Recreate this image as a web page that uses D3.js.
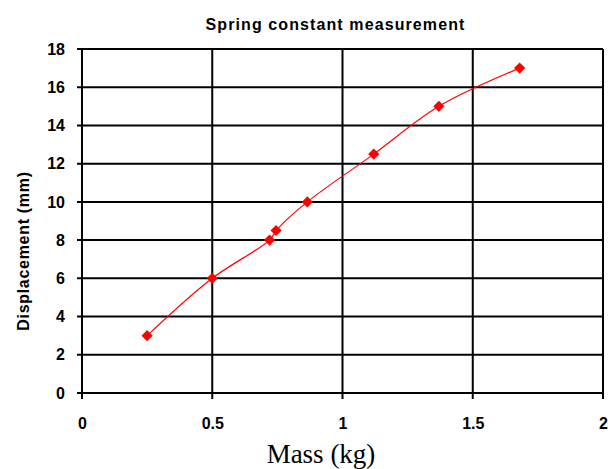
<!DOCTYPE html>
<html>
<head>
<meta charset="utf-8">
<script src="https://cdn.jsdelivr.net/npm/d3@7"></script>
<style>
  html, body { margin: 0; padding: 0; background: #fff; }
  svg { display: block; }
</style>
</head>
<body>
<svg id="chart" width="608" height="469"></svg>
<script>
const title = "Spring constant measurement";
const xLabel = "Mass (kg)";
const yLabel = "Displacement (mm)";
const massKg = [0.25, 0.5, 0.72, 0.745, 0.865, 1.12, 1.37, 1.68];
const displacementMm = [3, 6, 8, 8.5, 10, 12.5, 15, 17];
const xTicks = [0, 0.5, 1, 1.5, 2];
const xTickLabels = ["0", "0.5", "1", "1.5", "2"];
const yTicks = [0, 2, 4, 6, 8, 10, 12, 14, 16, 18];

(function () {
const svg = d3.select("#chart");
const pLeft = 82, pRight = 603, pTop = 49, pBottom = 393;

const x = d3.scaleLinear().domain([0, 2]).range([pLeft, pRight]);
const y = d3.scaleLinear().domain([0, 18]).range([pBottom, pTop]);

const font = "'Liberation Sans', Arial, sans-serif";

// grid lines
const grid = svg.append("g").attr("stroke", "#000").attr("stroke-width", 2);
grid.selectAll("line.h").data(yTicks).join("line").attr("class", "h")
  .attr("x1", pLeft - 5).attr("x2", pRight)
  .attr("y1", d => y(d)).attr("y2", d => y(d));
grid.selectAll("line.v").data(xTicks).join("line").attr("class", "v")
  .attr("x1", d => x(d)).attr("x2", d => x(d))
  .attr("y1", pTop).attr("y2", pBottom + 6);

// y axis tick labels
const yAxis = d3.axisLeft(y).tickValues(yTicks).tickSize(0).tickPadding(17);
const gy = svg.append("g").attr("transform", `translate(${pLeft},0)`).call(yAxis);
gy.select(".domain").remove();
gy.selectAll("text").attr("font-family", font).attr("font-weight", "bold")
  .attr("font-size", 16).attr("fill", "#000");

// x axis tick labels
const xAxis = d3.axisBottom(x).tickValues(xTicks).tickFormat((d, i) => xTickLabels[i]).tickSize(0).tickPadding(25);
const gx = svg.append("g").attr("transform", `translate(0,${pBottom})`).call(xAxis);
gx.select(".domain").remove();
gx.selectAll("text").attr("font-family", font).attr("font-weight", "bold")
  .attr("font-size", 16).attr("fill", "#000");

// data
const data = massKg.map((m, i) => ({ m, d: displacementMm[i] }));
const line = d3.line().x(p => x(p.m)).y(p => y(p.d)).curve(d3.curveCatmullRom.alpha(0.5));
svg.append("path").datum(data).attr("d", line)
  .attr("fill", "none").attr("stroke", "#ff0000").attr("stroke-width", 1.2);

svg.append("g").selectAll("path").data(data).join("path")
  .attr("d", d3.symbol().type(d3.symbolSquare).size(62))
  .attr("transform", p => `translate(${x(p.m)},${y(p.d)}) rotate(45)`)
  .attr("fill", "#ff0000");

// title
svg.append("text").attr("x", 335.5).attr("y", 30).attr("text-anchor", "middle")
  .attr("font-family", font).attr("font-weight", "bold").attr("font-size", 16)
  .attr("letter-spacing", 1.1)
  .attr("fill", "#000").text(title);

// x label
svg.append("text").attr("x", 321).attr("y", 463).attr("text-anchor", "middle")
  .attr("font-family", "'Liberation Serif', 'Times New Roman', serif").attr("font-size", 27)
  .attr("fill", "#000").text(xLabel);

// y label
svg.append("text").attr("transform", "translate(29,251) rotate(-90)")
  .attr("text-anchor", "middle")
  .attr("font-family", font).attr("font-weight", "bold").attr("font-size", 16)
  .attr("letter-spacing", 0.7)
  .attr("fill", "#000").text(yLabel);
})();
</script>
</body>
</html>
